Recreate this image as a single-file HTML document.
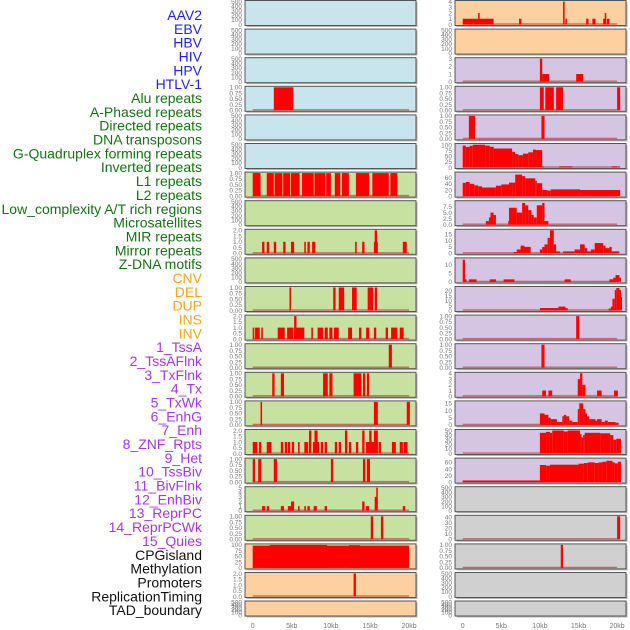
<!DOCTYPE html>
<html><head><meta charset="utf-8">
<style>
html,body{margin:0;padding:0;background:#fff;}
svg{display:block;font-family:"Liberation Sans",sans-serif;}
</style></head>
<body>
<svg id="chart" width="630" height="630" viewBox="0 0 630 630" xmlns="http://www.w3.org/2000/svg"></svg>
<script>
const labels = ["AAV2","EBV","HBV","HIV","HPV","HTLV-1","Alu repeats","A-Phased repeats","Directed repeats","DNA transposons","G-Quadruplex forming repeats","Inverted repeats","L1 repeats","L2 repeats","Low_complexity A/T rich regions","Microsatellites","MIR repeats","Mirror repeats","Z-DNA motifs","CNV","DEL","DUP","INS","INV","1_TssA","2_TssAFlnk","3_TxFlnk","4_Tx","5_TxWk","6_EnhG","7_Enh","8_ZNF_Rpts","9_Het","10_TssBiv","11_BivFlnk","12_EnhBiv","13_ReprPC","14_ReprPCWk","15_Quies","CPGisland","Methylation","Promoters","ReplicationTiming","TAD_boundary"];
const labelColors = {virus:"#1f1fff",repeat:"#137313",sv:"#ffa31a",state:"#a535f5",other:"#111"};
const xTicks = [0,5,10,15,20];
const xTickLabels = ["0","5kb","10kb","15kb","20kb"];
const T500 = ["0","100","200","300","400","500"], V500=[0,100,200,300,400,500];
const T1 = ["0.00","0.25","0.50","0.75","1.00"], V1=[0,0.25,0.5,0.75,1];
const T2 = ["0.0","0.5","1.0","1.5","2.0"], V2=[0,0.5,1,1.5,2];
const bgColors = {blue:"#c8e4ec",green:"#c7e1a1",orange:"#fecf9f",purple:"#d5c5e2",grey:"#d0d0d0"};

// bars: [startKb, endKb, value]
const barsL3=[[2.7,5.2,1]];
const barsL6=[[0,1,1],[1.8,2.7,1],[2.8,3.8,1],[3.9,4.8,1],[4.9,6,1],[6.3,7.8,1],[7.9,9.3,1],[9.4,10,1],[10.5,11.2,1],[11.4,12.3,1],[13.2,14.9,1],[15.3,17.4,1],[17.6,18.5,1]];
const barsL8=[[1.2,1.5,1],[1.8,2.1,1],[2.7,3,1],[3.9,4.2,1],[4.9,5.3,1],[6.6,6.8,1],[7,7.3,1],[7.6,8,1],[13.1,13.3,1],[14,14.3,1],[15.5,16,1],[15.6,15.9,2],[19.2,19.7,1]];
const barsL10=[[4.7,4.9,1],[10.3,10.6,1],[11,11.7,1],[12.7,13.3,1],[14.7,15.4,1],[15.6,15.9,1]];
const barsL11=[[0,0.2,1],[0.3,0.9,1],[1.1,1.3,1],[3.2,4.1,1],[4.4,5.2,1],[5.3,6.6,1],[5.3,5.6,2],[7.5,7.7,1],[8.3,9,1],[9.2,9.6,1],[9.8,10.2,1],[10.4,11,1],[12.2,12.7,1],[13.6,13.9,1],[14.5,14.9,1],[15.5,15.8,1],[17,17.3,1],[17.7,18.5,1],[18.8,19.3,1]];
const barsL12=[[17.4,17.8,1]];
const barsL13=[[2.5,2.8,1],[3.6,4,1],[9,9.6,1],[9.8,10.2,1],[12.9,13.9,1],[14.1,14.4,1],[14.6,14.9,1]];
const barsL14=[[1,1.2,1],[15.5,16,1],[19.7,20.1,1]];
const barsL15=[[0,0.6,1],[0.8,1.1,1],[1.8,2.4,1],[3.6,3.9,1],[4.1,4.4,1],[4.5,4.8,1],[5,5.3,1],[5.8,6,1],[6.6,7.1,1],[7.2,7.5,2],[7.7,8.5,1],[7.9,8.3,2],[8.7,9,1],[9.2,9.5,1],[10.5,10.8,1],[11,11.3,1],[11.8,12.1,2],[12.3,12.6,1],[13.2,13.5,1],[14,14.3,2],[14.5,16,1],[14.9,15.2,2],[15.5,16,2],[16.1,16.4,1],[17.8,18.3,1],[18.8,19.2,1],[19.3,19.8,1]];
const barsL16=[[0,0.3,1],[0.7,1.1,1],[2.7,3.1,1],[10,10.3,1],[14.1,14.4,1],[14.6,15,1]];
const barsL17=[[1.2,1.6,1],[1.8,2.1,1],[3.6,4,1],[4.5,5.2,1],[4.9,5.3,2],[5.8,6,1],[6.6,6.8,1],[7,7.3,1],[7.8,8.2,1],[9.2,9.5,1],[14,14.3,2],[14.5,14.9,1],[15.6,15.9,3],[15.8,16,5],[19.2,19.5,1]];
const barsL18=[[15.1,15.4,1],[16.4,16.7,1]];
const barsL19=[[0,20,97],[2.2,9.5,100],[12.3,13.7,99]];
const barsL20=[[12.9,13.2,2]];

const barsR0=[[0,4,1],[2,2.2,2],[7.3,7.6,1],[13,13.2,4],[13.3,13.5,1],[16,16.3,1],[16.8,17.2,1],[18.2,18.6,1],[18.4,18.6,2],[18.7,19,1]];
const barsR2=[[10,10.3,3],[10.3,11.2,1],[14.7,15.6,1]];
const barsR3=[[10,10.5,1],[10.7,11.8,1],[12.1,13,1],[20,20.4,1]];
const barsR4=[[0.8,1.6,1],[10.2,10.6,1]];
const barsR5=[[0,0.4,98],[0.4,0.9,92],[0.9,1.3,97],[1.3,2.9,102],[2.9,3.5,98],[3.5,4,93],[4,6.4,85],[6.4,6.8,70],[6.8,7.2,60],[7.2,7.8,55],[7.8,8.5,62],[8.5,9.1,68],[9.1,9.5,80],[9.5,10.3,78],[10.3,10.5,5],[12.5,14.2,5],[19.3,20.4,5]];
const barsR6=[[0,0.4,43],[0.4,0.9,46],[0.9,1.5,40],[1.5,2,35],[2,2.5,32],[2.5,4.3,28],[4.3,5,34],[5,6,38],[6,6.4,44],[6.4,6.8,44],[6.8,7.7,70],[7.7,8.1,65],[8.1,9.4,58],[9.4,9.6,50],[9.6,10.3,42],[10.3,11,20],[11,11.4,18],[11.4,15.2,22],[15.2,20.4,20]];
const barsR7=[[3,3.4,1.5],[3.4,3.6,3],[3.6,4,5],[4,4.3,4],[5.9,6,1.5],[6,7,7],[7,7.7,5],[7.7,8.1,9],[8.1,8.5,8],[8.5,8.9,6],[8.9,9.2,4],[9.2,9.6,3],[9.6,10.3,8],[10.3,10.6,9],[10.6,11.1,1.5]];
const barsR8=[[6.6,7,1],[7,7.5,3],[7.5,8,6],[8,8.8,5],[10,10.3,3],[10.3,10.6,5],[10.6,11,7],[11,11.3,12],[11.3,11.8,18],[11.8,12.1,7],[12.1,12.6,1.5],[13,14.5,1.5],[14.5,15.2,3],[15.2,15.8,7],[15.8,16.1,4],[16.1,16.6,1.5],[16.6,17.1,3],[17.1,18.2,8],[18.2,18.5,6],[18.5,19,4],[19,19.3,5],[19.3,20.3,1.5]];
const barsR9=[[0,0.3,13],[0.3,0.5,1.5],[0.8,1.8,1.5],[3.5,4.3,1.5],[5.3,6.7,1.5],[13.2,14,1.5],[19,19.5,1.5],[19.5,19.8,2.5],[19.8,20.3,4],[20.3,20.5,2.5]];
const barsR10=[[10,12.4,2.5],[12.4,13.3,4],[13.3,13.6,2.5],[18.9,19.2,2],[19.2,19.4,4],[19.4,19.7,12],[19.7,19.9,21],[19.9,20.3,23],[20.3,20.5,21],[20.5,20.6,14]];
const barsR11=[[14.7,15.1,1]];
const barsR12=[[10.2,10.6,1]];
const barsR13=[[10.3,10.8,1],[11.1,11.6,1],[14.9,15.2,3],[15.2,15.5,4],[15.5,15.9,2],[17.4,18,1],[19.6,20.1,1]];
const barsR14=[[10,10.6,8],[10.6,11.1,7],[11.1,11.4,5],[11.4,12.2,4],[12.2,12.9,2],[12.9,13.1,6],[13.1,13.4,7],[13.4,13.8,6],[13.8,14.2,3],[14.2,14.9,2],[14.9,15.1,11],[15.1,15.6,15],[15.6,15.9,11],[15.9,16.1,8],[16.1,16.4,6],[16.4,17.2,4],[17.2,17.4,3],[17.4,18,4],[18,18.4,2],[18.4,18.8,3],[18.8,19.8,2],[19.8,20.2,1.5]];
const barsR15=[[10,10.8,45],[10.8,11.3,47],[11.3,11.6,45],[11.6,13.1,50],[13.1,13.6,48],[13.6,15.2,50],[15.2,15.4,42],[15.4,15.6,35],[15.6,15.8,40],[15.8,17.8,45],[17.8,19.1,44],[19.1,19.5,40],[19.5,19.9,30],[19.9,20.5,32]];
const barsR16=[[0,10,5],[10,10.8,52],[10.8,11.3,50],[11.3,15,53],[15,15.7,56],[15.7,16.2,58],[16.2,17.1,60],[17.1,17.6,58],[17.6,18.1,60],[18.1,18.6,62],[18.6,19.4,65],[19.4,19.7,60],[19.7,20.1,57],[20.1,20.5,62]];
const barsR18=[[20,20.4,42]];
const barsR19=[[12.7,13,1]];

const leftBg=["blue","blue","blue","blue","blue","blue","green","green","green","green","green","green","green","green","green","green","green","green","green","orange","orange","orange"];
const rightBg=["orange","orange","purple","purple","purple","purple","purple","purple","purple","purple","purple","purple","purple","purple","purple","purple","purple","grey","grey","grey","grey","grey"];
const E=null;
const leftPanels=[[T500,V500,500,E],[T500,V500,500,E],[T500,V500,500,E],[T1,V1,1,barsL3],[T500,V500,500,E],[T500,V500,500,E],[T1,V1,1,barsL6],[T500,V500,500,E],[T2,V2,2,barsL8],[T500,V500,500,E],[T1,V1,1,barsL10],[T2,V2,2,barsL11],[T1,V1,1,barsL12],[T1,V1,1,barsL13],[T1,V1,1,barsL14],[T2,V2,2,barsL15],[T1,V1,1,barsL16],[["0","1","2","3","4","5"],[0,1,2,3,4,5],5,barsL17],[T1,V1,1,barsL18],[["0","25","50","75","100"],[0,25,50,75,100],100,barsL19],[T2,V2,2,barsL20],[T500,V500,500,E]];
const rightPanels=[[["0","1","2","3","4"],[0,1,2,3,4],4,barsR0],[T500,V500,500,E],[["0","1","2","3"],[0,1,2,3],3,barsR2],[T1,V1,1,barsR3],[T1,V1,1,barsR4],[["0","25","50","75","100"],[0,25,50,75,100],103,barsR5],[["0","20","40","60"],[0,20,40,60],75,barsR6],[["0.0","2.5","5.0","7.5"],[0,2.5,5,7.5],9.5,barsR7],[["0","5","10","15"],[0,5,10,15],18,barsR8],[["0","5","10"],[0,5,10],13.5,barsR9],[["0","5","10","15","20"],[0,5,10,15,20],23.5,barsR10],[T1,V1,1,barsR11],[T1,V1,1,barsR12],[["0","1","2","3","4"],[0,1,2,3,4],4,barsR13],[["0","5","10","15"],[0,5,10,15],16,barsR14],[["0","10","20","30","40","50"],[0,10,20,30,40,50],50,barsR15],[["0","20","40","60"],[0,20,40,60],70,barsR16],[T500,V500,500,E],[["0","10","20","30","40"],[0,10,20,30,40],42,barsR18],[T1,V1,1,barsR19],[T500,V500,500,E],[T500,V500,500,E]];

const svg=document.getElementById('chart');
const NS="http://www.w3.org/2000/svg";
function mk(tag,attrs,parent){const e=document.createElementNS(NS,tag);for(const k in attrs)e.setAttribute(k,attrs[k]);(parent||svg).appendChild(e);return e;}

labels.forEach((t,i)=>{
  let c=i<6?labelColors.virus:i<19?labelColors.repeat:i<24?labelColors.sv:i<39?labelColors.state:labelColors.other;
  const e=mk('text',{x:202,y:20+i*13.84,'text-anchor':'end','font-size':14,fill:c});
  
  
  e.textContent=t;
});

const cols=[{x:245,w:171,x0:252.7,k:7.82,bg:leftBg,p:leftPanels,name:'left'},{x:455,w:171,x0:462.7,k:7.72,bg:rightBg,p:rightPanels,name:'right'}];
cols.forEach(col=>{
  const xs=v=>col.x0+v*col.k;
  col.p.forEach((pd,r)=>{
    const top=r<21?0.5+r*28.6:601, h=r<21?25:15;
    const g=mk('g',{});
    
    
    mk('rect',{x:col.x+1.5,y:top+1.5,width:col.w,height:h,fill:'#b4b4b4'},g);
    const bgR=mk('rect',{x:col.x,y:top,width:col.w,height:h,fill:bgColors[col.bg[r]]},g);
    
    
    const [tl,tv,ymax,bars]=pd;
    const bot=top+h-1, ph=h-2;
    const ys=v=>bot-v/ymax*ph;
    if(bars){
      const bl=mk('rect',{x:xs(0),y:bot-1.2,width:xs(20)-xs(0),height:1.4,fill:'#c04848','fill-opacity':0.75},g);
      
      
      bars.forEach(b=>{
        const y=ys(b[2]);
        const br=mk('rect',{x:xs(b[0]),y:y,width:Math.max(1,xs(b[1])-xs(b[0])),height:bot-y,fill:'#ff0000'},g);
        
        
      });
    }
    mk('rect',{x:col.x,y:top,width:col.w,height:h,fill:'none',stroke:'#555','stroke-width':1},g);
    tv.forEach((v,i)=>{
      const t=mk('text',{x:col.x-3,y:ys(v)+2.3,'text-anchor':'end','font-size':6.5,fill:'#777'},g);
      
      
      t.textContent=tl[i];
    });
  });
  xTicks.forEach((v,i)=>{
    const t=mk('text',{x:xs(v),y:628,'text-anchor':'middle','font-size':7,fill:'#777'});
    
    
    t.textContent=xTickLabels[i];
  });
});
</script>
</body></html>
